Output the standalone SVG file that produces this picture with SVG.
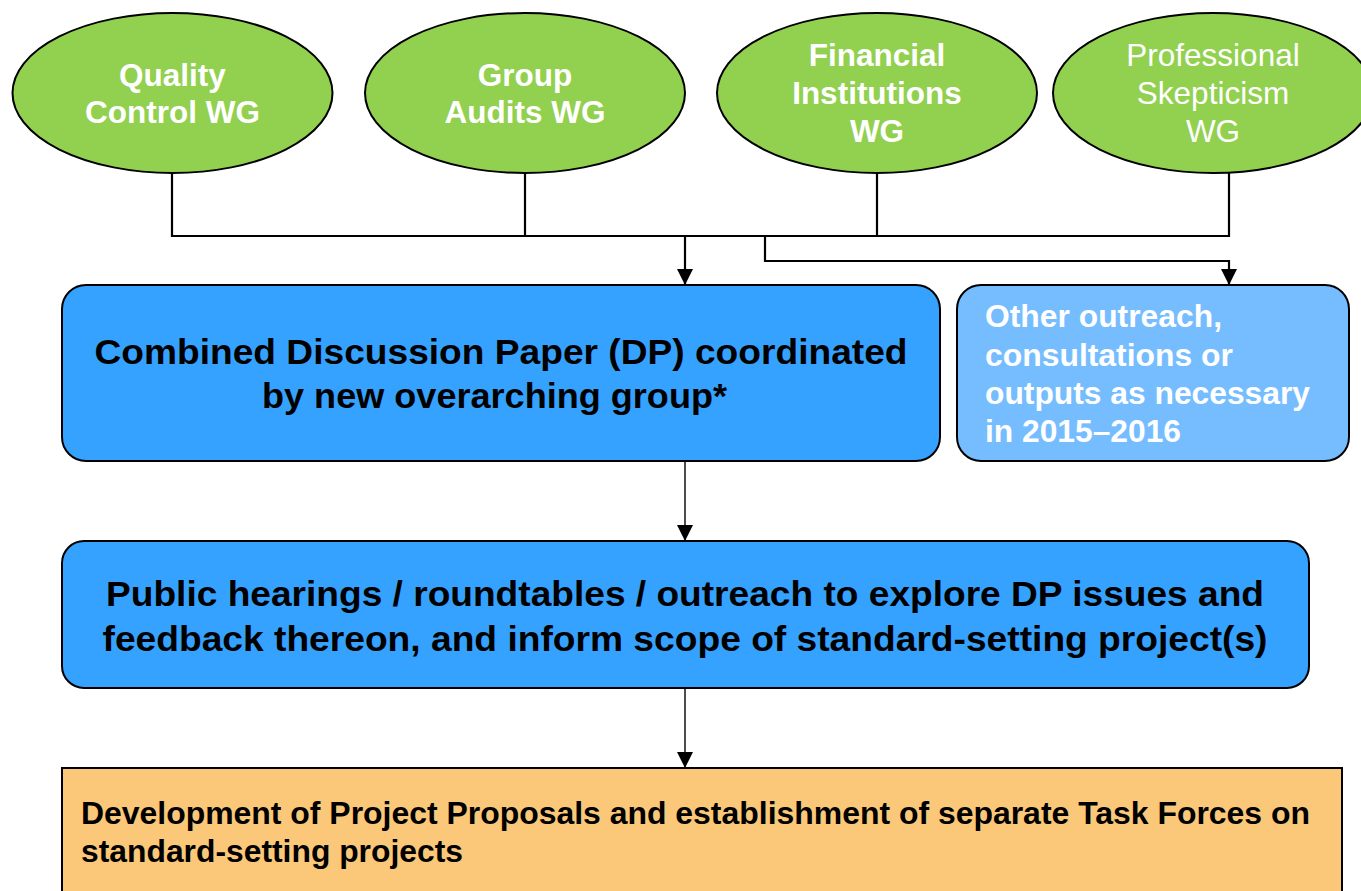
<svg xmlns="http://www.w3.org/2000/svg" width="1361" height="891" viewBox="0 0 1361 891">
<style>
.ell{fill:#92d050;stroke:#000;stroke-width:2}
.wt{fill:#fff;font-family:"Liberation Sans",Arial,sans-serif;font-size:31.5px;text-anchor:middle}
.b{font-weight:bold}
.bt{fill:#000;font-family:"Liberation Sans",Arial,sans-serif;font-weight:bold}
.ot{fill:#fff;font-family:"Liberation Sans",Arial,sans-serif;font-weight:bold;font-size:31px}
.conn{fill:none;stroke:#000;stroke-width:2.2}
.thin{fill:none;stroke:#000;stroke-width:1.4}
</style>
<defs>
<marker id="ah" markerWidth="16" markerHeight="16" viewBox="0 0 16 16" refX="16" refY="8" orient="auto" markerUnits="userSpaceOnUse">
<path d="M0,0 L16,8 L0,16 Z" fill="#000"/>
</marker>
</defs>
<rect width="1361" height="891" fill="#fff"/>
<g id="connectors">
<path class="conn" d="M172,173 V236 H1229 V173"/>
<path class="conn" d="M525,173 V236"/>
<path class="conn" d="M877,173 V236"/>
<path class="conn" d="M685,236 V285" marker-end="url(#ah)"/>
<path class="conn" d="M765,236 V261 H1229 V285" marker-end="url(#ah)"/>
<path class="thin" d="M685,461 V541" marker-end="url(#ah)"/>
<path class="thin" d="M685,689 V768" marker-end="url(#ah)"/>
</g>
<g id="wg-quality">
<ellipse class="ell" cx="172.5" cy="93" rx="160" ry="80"/>
<text class="wt b" x="172.5" y="86">Quality</text>
<text class="wt b" x="172.5" y="123">Control WG</text>
</g>
<g id="wg-group">
<ellipse class="ell" cx="525" cy="93" rx="160" ry="80"/>
<text class="wt b" x="525" y="86">Group</text>
<text class="wt b" x="525" y="123">Audits WG</text>
</g>
<g id="wg-financial">
<ellipse class="ell" cx="877" cy="93" rx="160" ry="80"/>
<text class="wt b" x="877" y="66">Financial</text>
<text class="wt b" x="877" y="104">Institutions</text>
<text class="wt b" x="877" y="142">WG</text>
</g>
<g id="wg-skepticism">
<ellipse class="ell" cx="1213" cy="93" rx="160" ry="80"/>
<text class="wt" x="1213" y="66">Professional</text>
<text class="wt" x="1213" y="104">Skepticism</text>
<text class="wt" x="1213" y="142">WG</text>
</g>
<g id="dp">
<rect x="62" y="285" width="878" height="176" rx="24" fill="#36a2ff" stroke="#000" stroke-width="2"/>
<text class="bt" font-size="35" text-anchor="middle" x="501" y="364" textLength="813" lengthAdjust="spacingAndGlyphs">Combined Discussion Paper (DP) coordinated</text>
<text class="bt" font-size="35" text-anchor="middle" x="494.5" y="408" textLength="465" lengthAdjust="spacingAndGlyphs">by new overarching group*</text>
</g>
<g id="other">
<rect x="957" y="285" width="392" height="176" rx="24" fill="#75bdff" stroke="#000" stroke-width="2"/>
<text class="ot" x="985" y="327" textLength="237" lengthAdjust="spacingAndGlyphs">Other outreach,</text>
<text class="ot" x="985" y="366" textLength="248" lengthAdjust="spacingAndGlyphs">consultations or</text>
<text class="ot" x="985" y="404" textLength="325" lengthAdjust="spacingAndGlyphs">outputs as necessary</text>
<text class="ot" x="985" y="442" textLength="196" lengthAdjust="spacingAndGlyphs">in 2015–2016</text>
</g>
<g id="public">
<rect x="62" y="541" width="1247" height="147" rx="22" fill="#36a2ff" stroke="#000" stroke-width="2"/>
<text class="bt" font-size="35" text-anchor="middle" x="685" y="606" textLength="1158" lengthAdjust="spacingAndGlyphs">Public hearings / roundtables / outreach to explore DP issues and</text>
<text class="bt" font-size="35" text-anchor="middle" x="685" y="651" textLength="1165" lengthAdjust="spacingAndGlyphs">feedback thereon, and inform scope of standard-setting project(s)</text>
</g>
<g id="development">
<rect x="62" y="768" width="1280" height="130" fill="#fac878" stroke="#000" stroke-width="2"/>
<text class="bt" font-size="31" x="81" y="824" textLength="1229" lengthAdjust="spacingAndGlyphs">Development of Project Proposals and establishment of separate Task Forces on</text>
<text class="bt" font-size="31" x="81" y="862" textLength="382" lengthAdjust="spacingAndGlyphs">standard-setting projects</text>
</g>
</svg>
